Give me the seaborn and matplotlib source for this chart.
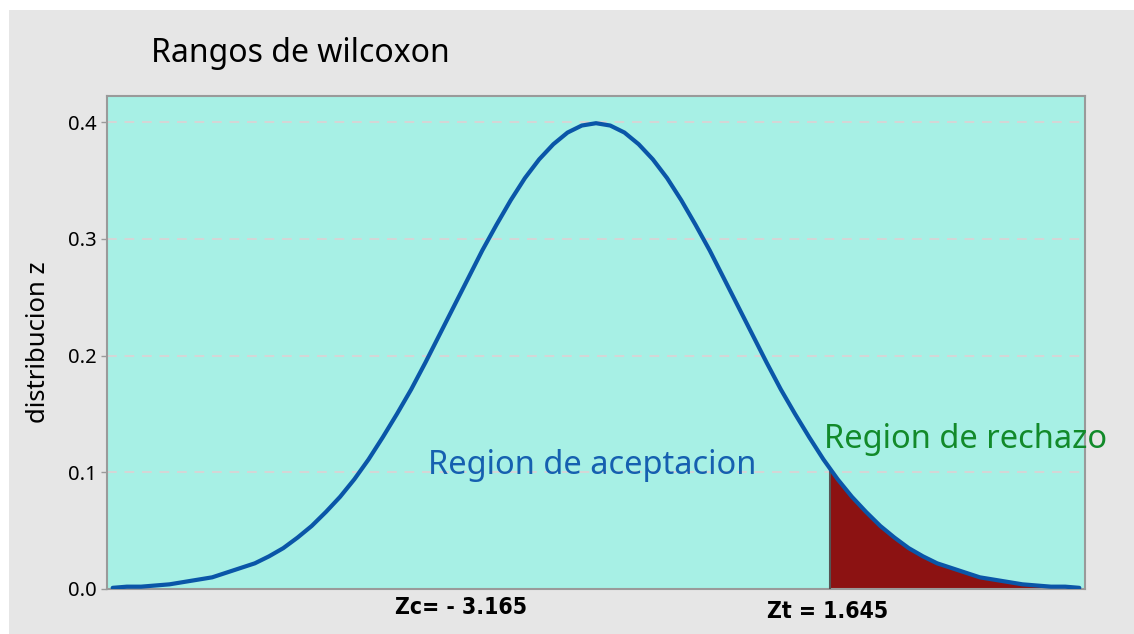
import numpy as np
import pandas as pd
import seaborn as sns
import matplotlib.pyplot as plt
from matplotlib.patches import Rectangle

# valores (z, densidad)
z = [-3.4, -3.3, -3.2, -3.1, -3.0, -2.9, -2.8, -2.7, -2.6, -2.5, -2.4, -2.3,
     -2.2, -2.1, -2.0, -1.9, -1.8, -1.7, -1.6, -1.5, -1.4, -1.3, -1.2, -1.1,
     -1.0, -0.9, -0.8, -0.7, -0.6, -0.5, -0.4, -0.3, -0.2, -0.1, 0.0,
     0.1, 0.2, 0.3, 0.4, 0.5, 0.6, 0.7, 0.8, 0.9, 1.0, 1.1, 1.2, 1.3, 1.4,
     1.5, 1.6, 1.7, 1.8, 1.9, 2.0, 2.1, 2.2, 2.3, 2.4, 2.5, 2.6, 2.7, 2.8,
     2.9, 3.0, 3.1, 3.2, 3.3, 3.4]
dens = [0.001, 0.002, 0.002, 0.003, 0.004, 0.006, 0.008, 0.010, 0.014, 0.018,
        0.022, 0.028, 0.035, 0.044, 0.054, 0.066, 0.079, 0.094, 0.111, 0.130,
        0.150, 0.171, 0.194, 0.218, 0.242, 0.266, 0.290, 0.312, 0.333, 0.352,
        0.368, 0.381, 0.391, 0.397, 0.399,
        0.397, 0.391, 0.381, 0.368, 0.352, 0.333, 0.312, 0.290, 0.266, 0.242,
        0.218, 0.194, 0.171, 0.150, 0.130, 0.111, 0.094, 0.079, 0.066, 0.054,
        0.044, 0.035, 0.028, 0.022, 0.018, 0.014, 0.010, 0.008, 0.006, 0.004,
        0.003, 0.002, 0.002, 0.001]
z_t = 1.645
dens_t = 0.103
yticks = [0.0, 0.1, 0.2, 0.3, 0.4]

df = pd.DataFrame({"z": z, "dens": dens})
cola = df[df.z > z_t]
cola_x = [z_t] + list(cola.z)
cola_y = [dens_t] + list(cola.dens)

sns.set_style("ticks")
plt.rcParams['font.family'] = ['Noto Sans', 'DejaVu Sans']
plt.rcParams['text.color'] = 'black'

fig = plt.figure(figsize=(11.34, 6.34), dpi=100)
fig.patch.set_facecolor("white")
fig.patches.append(Rectangle((9 / 1134, 0), 1, 624 / 634, transform=fig.transFigure,
                             facecolor="#e6e6e6", edgecolor="none", zorder=-10))

ax = fig.add_axes([107 / 1134, 1 - 589 / 634, 978 / 1134, 493 / 634])
ax.set_facecolor("#a7f0e5")

ax.fill_between(cola_x, 0, cola_y, color="#8c1212", zorder=2, linewidth=0)
ax.plot([z_t, z_t], [0, dens_t], color="#555555", lw=1.5, zorder=3)
sns.lineplot(data=df, x="z", y="dens", ax=ax, color="#0a56a8", lw=3, zorder=4)

ax.set_xlim(-3.44, 3.44)
ax.set_ylim(0, 0.4223)
ax.set_yticks(yticks)
ax.set_yticklabels(["%.1f" % v for v in yticks], fontsize=14.5, color="black")
ax.set_xticks([])
for v in yticks[1:]:
    ax.axhline(v, color="#d6d6d6", lw=1.4, ls=(0, (5, 4)), zorder=1)
for s in ax.spines.values():
    s.set_color("#9a9a9a")
    s.set_linewidth(1.5)
ax.tick_params(axis="y", color="#9a9a9a", length=4, width=1)
ax.set_xlabel("")
ax.set_ylabel("distribucion z", fontsize=18.5, labelpad=12, color="black")

fig.text(151 / 1134, 1 - 53 / 634, "Rangos de wilcoxon", fontsize=23,
         fontweight="semibold", ha="left", va="center")
ax.text(-0.03, 0.106, "Region de aceptacion", color="#1560b0", fontsize=23.5,
        ha="center", va="center")
ax.text(2.6, 0.128, "Region de rechazo", color="#128a2a", fontsize=23.5,
        ha="center", va="center")
fig.text(461 / 1134, 1 - 607 / 634, "Zc= - 3.165", fontsize=16.5, fontweight="bold",
         family="DejaVu Sans", fontstretch="condensed", ha="center", va="center")
fig.text(828 / 1134, 1 - 611 / 634, "Zt = 1.645", fontsize=16.5, fontweight="bold",
         family="DejaVu Sans", fontstretch="condensed", ha="center", va="center")

fig.savefig("out.png", dpi=100)
